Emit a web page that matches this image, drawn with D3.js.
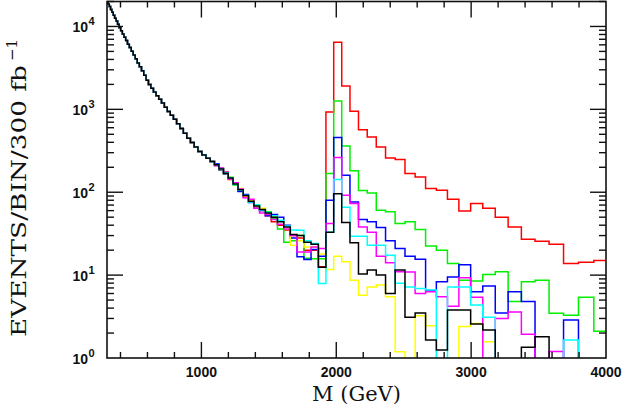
<!DOCTYPE html>
<html><head><meta charset="utf-8">
<script src="https://cdn.jsdelivr.net/npm/d3@7"></script>
<style>body{margin:0;background:#fff}svg{display:block}</style>
</head><body>
<svg id="chart" width="624" height="409"></svg>
<script>
// ---- data ----
const binEdges = [298.8,307.7,317.0,326.5,336.3,346.4,356.7,367.4,378.5,389.8,401.5,413.5,425.9,438.7,451.9,465.4,479.4,493.8,508.6,523.8,539.5,555.7,572.4,589.6,607.2,625.5,644.2,663.5,683.5,704.0,725.1,746.8,769.2,792.3,816.1,840.6,865.8,891.8,918.5,946.1,974.5,1003.7,1033.8,1064.8,1096.8,1129.7,1163.6,1198.5,1234.5,1271.5,1309.7,1349.0,1389.4,1431.1,1474.1,1518.3,1563.8,1610.8,1659.1,1708.8,1760.1,1812.9,1867.3,1923.3,1981.0,2040.4,2101.6,2164.7,2229.6,2296.5,2365.4,2436.4,2509.5,2584.7,2662.3,2742.1,2824.4,2909.1,2996.4,3086.3,3178.9,3274.3,3372.5,3473.7,3577.9,3685.2,3795.8,3909.7,4027.0];
// common low-mass background (bins 0-43)
const background = [19500,18600,17400,16000,14800,13650,12600,11600,10600,9660,8900,8130,7410,6760,6100,5560,5010,4520,4070,3630,3270,2920,2570,2240,2000,1800,1620,1460,1320,1190,1060,944,851,759,668,589,513,447,398,351,309,282,257,234];
// per-series values for bins 44-87
const redHigh = [218,186,176,142,130,103,88,80,65,60,52,44,40,35,30,28,20,20,
  12.6,928,6470,1910,946,569,464,352,259,248,168,153,111,106,82,59.5,73,64,50,38,27,25.7,23.6,13.8,14.3,15];
const greenHigh = [210,195,166,152,122,110,93,76,70,63,58,48,36,25,26,30,16,15.8,
  15.8,168,1260,361,181,105,98,60.7,58,42,44,35.5,22.5,20,13.8,8.7,8.5,10.2,11,4.8,8.3,8.7,3.46,3.27,5.4,2.1];
const blueHigh = [220,188,166,150,128,102,94,75,66,60,52,54,50,40,28,16.6,15.4,20.4,
  16.9,80,456,160,76,46.9,43.9,37.5,25.9,21,16.9,15.5,6.5,8.3,9.5,13.3,6.3,7.4,3.5,6.3,4.8,0,0,2.87,0,0];
const yellowHigh = [212,192,168,146,128,111,90,79,67,64,55,51,45,36,23,26,21.9,21.9,
  18,11.7,16.9,14.5,8.7,5.7,7.2,7.6,5.5,1.19,0,3.23,2.45,0,0,2.4,2.6,1.57,0,0,0,0,0,0,0,0];
const magentaHigh = [208,196,174,144,130,109,86,82,64,56,54,47,41,36,30,19,19,21.9,
  21,42,262,92,73,38,33,16.9,14.1,11,10.9,6.0,6.3,5.5,4.2,9.3,5.4,0,3.0,3.6,1.93,0,1.2,0,0,0];
const cyanHigh = [216,188,172,150,124,106,92,76,70,61,57,52,46,39,35,34.7,26,24,
  7.9,33,142,66,29.5,29.5,23,23,17.4,8,7.2,6.9,6.6,0,7.2,7.2,4.35,3.1,0,0,0,0,0,1.65,0,0];
const blackHigh = [214,191,170,148,126,107,91,78,68,62,56,50,44,38,31,30,25,23.5,
  12.4,33,96,43,24.5,10.3,11.5,10,6.0,11.5,3.1,3.5,1.65,1.25,3.8,3.8,2.57,2.17,0,0,1.35,1.8,0,0,0,0];
const seriesNames = ["red","green","blue","yellow","magenta","cyan","black"];
const seriesColors = ["#ff0000","#00f000","#0000ff","#ffff00","#ff00ff","#00ffff","#000000"];
const seriesHigh = [redHigh,greenHigh,blueHigh,yellowHigh,magentaHigh,cyanHigh,blackHigh];
const xTickLabels = [1000,2000,3000,4000];
const yTickExponents = [0,1,2,3,4];
const xTitle = "M (GeV)";
const yTitle = "EVENTS/BIN/300 fb";
const yTitleSup = "\u22121";

// ---- layout ----
const L=107, R=606, T=1.5, B=358;
const svg = d3.select("#chart");
const x = d3.scaleLinear().domain([300,4000]).range([L,R]);
const y = d3.scaleLog().domain([1,2e4]).range([B,T]);

svg.append("defs").append("clipPath").attr("id","clip")
  .append("rect").attr("x",L).attr("y",T).attr("width",R-L).attr("height",B-T);

const g = svg.append("g").attr("clip-path","url(#clip)");
const line = d3.line().x(d=>d[0]).y(d=>d[1]);
seriesHigh.forEach((hi,k)=>{
  const vals = background.concat(hi);
  const pts = [];
  vals.forEach((v,i)=>{
    const yy = v>0 ? y(v) : B+10;
    pts.push([x(binEdges[i]),yy],[x(binEdges[i+1]),yy]);
  });
  g.append("path").attr("d",line(pts)).attr("fill","none")
    .attr("stroke",seriesColors[k]).attr("stroke-width",1.5)
    .attr("stroke-linejoin","miter");
});

// frame
svg.append("rect").attr("x",L).attr("y",T).attr("width",R-L).attr("height",B-T)
  .attr("fill","none").attr("stroke","#111").attr("stroke-width",1.6);

const axes = svg.append("g").attr("stroke","#111").attr("stroke-width",1.4);
d3.range(400,4000,200).forEach(v=>{
  const major = v%1000===0;
  const len = major?16:6;
  const xx = x(v);
  axes.append("line").attr("x1",xx).attr("x2",xx).attr("y1",B).attr("y2",B-len);
  axes.append("line").attr("x1",xx).attr("x2",xx).attr("y1",T).attr("y2",T+len);
});
yTickExponents.forEach(e=>{
  for(let m=1;m<=9;m++){
    const v = m*Math.pow(10,e);
    if(v>2e4) break;
    if(v===1) continue;
    const yy = y(v);
    const len = m===1?16:7;
    axes.append("line").attr("x1",L).attr("x2",L+len).attr("y1",yy).attr("y2",yy);
    axes.append("line").attr("x1",R).attr("x2",R-len).attr("y1",yy).attr("y2",yy);
  }
});

// tick labels
const sans = "'Liberation Sans', Arial, sans-serif";
svg.selectAll(".xl").data(xTickLabels).enter().append("text")
  .attr("x",d=>x(d)).attr("y",377).attr("text-anchor","middle")
  .attr("font-family",sans).attr("font-weight","bold").attr("font-size",14)
  .attr("fill","#111").text(d=>d);
yTickExponents.forEach(e=>{
  const yy = y(Math.pow(10,e));
  svg.append("text").attr("x",88).attr("y",yy+6).attr("text-anchor","end")
    .attr("font-family",sans).attr("font-weight","bold").attr("font-size",14)
    .attr("fill","#111").text("10");
  svg.append("text").attr("x",88.5).attr("y",yy-1).attr("text-anchor","start")
    .attr("font-family",sans).attr("font-weight","bold").attr("font-size",11)
    .attr("fill","#111").text(e);
});

// titles
const serif = "'DejaVu Serif', 'Liberation Serif', serif";
svg.append("text").attr("x",(L+R)/2).attr("y",401).attr("text-anchor","middle")
  .attr("font-family",serif).attr("font-size",21).attr("fill","#111").text(xTitle);
const yt = svg.append("text").attr("transform","translate(26,337) rotate(-90)")
  .attr("text-anchor","start").attr("font-family",serif).attr("font-size",21).attr("fill","#111");
yt.append("tspan").attr("textLength",272).attr("lengthAdjust","spacingAndGlyphs").text(yTitle);
yt.append("tspan").attr("dy",-9).attr("dx",4).attr("font-size",15).text(yTitleSup);
</script>
</body></html>
